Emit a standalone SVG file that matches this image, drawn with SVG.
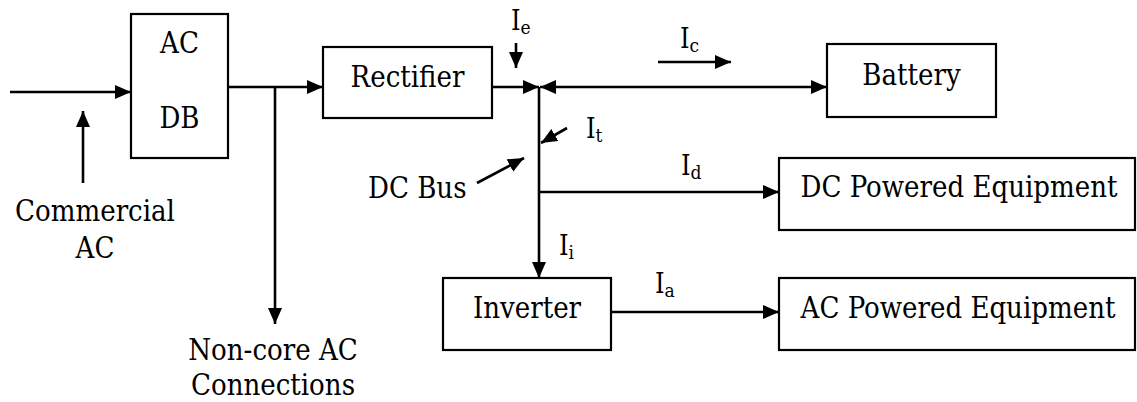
<svg xmlns="http://www.w3.org/2000/svg" width="1137" height="402" viewBox="0 0 1137 402">
  <style>
    .box { fill: #fff; stroke: #000; stroke-width: 2.2; }
    .wire { fill: none; stroke: #000; stroke-width: 2.6; }
    text { font-family: 'DejaVu Serif Condensed', 'DejaVu Serif', serif; font-stretch: condensed; fill: #000; }
    .lbl { font-size: 29px; }
    .cur { font-size: 27px; }
    .sub { font-size: 19px; }
  </style>
  <defs>
    <marker id="arrow" viewBox="0 0 16 14" refX="16" refY="7" markerWidth="16" markerHeight="14" markerUnits="userSpaceOnUse" orient="auto-start-reverse">
      <path d="M0,0 L16,7 L0,14 Z" fill="#000"/>
    </marker>
  </defs>

  <!-- connectors -->
  <g id="connectors">
    <line class="wire" x1="10" y1="92" x2="131" y2="92" marker-end="url(#arrow)"/>
    <line class="wire" x1="83" y1="183" x2="83" y2="111" marker-end="url(#arrow)"/>
    <line class="wire" x1="228" y1="87" x2="323" y2="87" marker-end="url(#arrow)"/>
    <line class="wire" x1="275" y1="87" x2="275" y2="324" marker-end="url(#arrow)"/>
    <line class="wire" x1="492" y1="87" x2="539" y2="87" marker-end="url(#arrow)"/>
    <line class="wire" x1="540" y1="87" x2="827" y2="87" marker-start="url(#arrow)" marker-end="url(#arrow)"/>
    <line class="wire" x1="539" y1="87" x2="539" y2="278" marker-end="url(#arrow)"/>
    <line class="wire" x1="539" y1="192" x2="779" y2="192" marker-end="url(#arrow)"/>
    <line class="wire" x1="611" y1="312" x2="779" y2="312" marker-end="url(#arrow)"/>
    <!-- current indicators -->
    <line class="wire" x1="516" y1="43" x2="516" y2="68" marker-end="url(#arrow)"/>
    <line class="wire" x1="658" y1="62" x2="731" y2="62" marker-end="url(#arrow)"/>
    <line class="wire" x1="567" y1="128" x2="541" y2="143" marker-end="url(#arrow)"/>
    <line class="wire" x1="477" y1="183" x2="524" y2="158" marker-end="url(#arrow)"/>
  </g>

  <!-- nodes -->
  <g id="acdb">
    <rect class="box" x="131" y="14" width="97" height="144"/>
    <text class="lbl" x="179.5" y="53" text-anchor="middle">AC</text>
    <text class="lbl" x="179.5" y="128" text-anchor="middle">DB</text>
  </g>
  <g id="rectifier">
    <rect class="box" x="323" y="47" width="169" height="71"/>
    <text class="lbl" x="407.5" y="87" text-anchor="middle">Rectifier</text>
  </g>
  <g id="battery">
    <rect class="box" x="827" y="44" width="169" height="73"/>
    <text class="lbl" x="911.5" y="85" text-anchor="middle">Battery</text>
  </g>
  <g id="dc-equipment">
    <rect class="box" x="779" y="158" width="356" height="72"/>
    <text class="lbl" x="959" y="197" text-anchor="middle">DC Powered Equipment</text>
  </g>
  <g id="inverter">
    <rect class="box" x="443" y="278" width="168" height="72"/>
    <text class="lbl" x="527" y="318" text-anchor="middle">Inverter</text>
  </g>
  <g id="ac-equipment">
    <rect class="box" x="779" y="278" width="356" height="72"/>
    <text class="lbl" x="958" y="318" text-anchor="middle">AC Powered Equipment</text>
  </g>
  <g id="commercial-ac">
    <text class="lbl" x="95" y="221" text-anchor="middle">Commercial</text>
    <text class="lbl" x="95" y="258" text-anchor="middle">AC</text>
  </g>
  <g id="non-core">
    <text class="lbl" x="273" y="360" text-anchor="middle">Non-core AC</text>
    <text class="lbl" x="273" y="395" text-anchor="middle">Connections</text>
  </g>
  <g id="dc-bus">
    <text class="lbl" x="368" y="198">DC Bus</text>
  </g>

  <!-- current labels -->
  <g id="currents">
    <text class="cur" x="511" y="30">I<tspan class="sub" dy="4">e</tspan></text>
    <text class="cur" x="680" y="48">I<tspan class="sub" dy="4">c</tspan></text>
    <text class="cur" x="586" y="138">I<tspan class="sub" dy="4">t</tspan></text>
    <text class="cur" x="681" y="175">I<tspan class="sub" dy="4">d</tspan></text>
    <text class="cur" x="559" y="255">I<tspan class="sub" dy="4">i</tspan></text>
    <text class="cur" x="655" y="293">I<tspan class="sub" dy="4">a</tspan></text>
  </g>
</svg>
